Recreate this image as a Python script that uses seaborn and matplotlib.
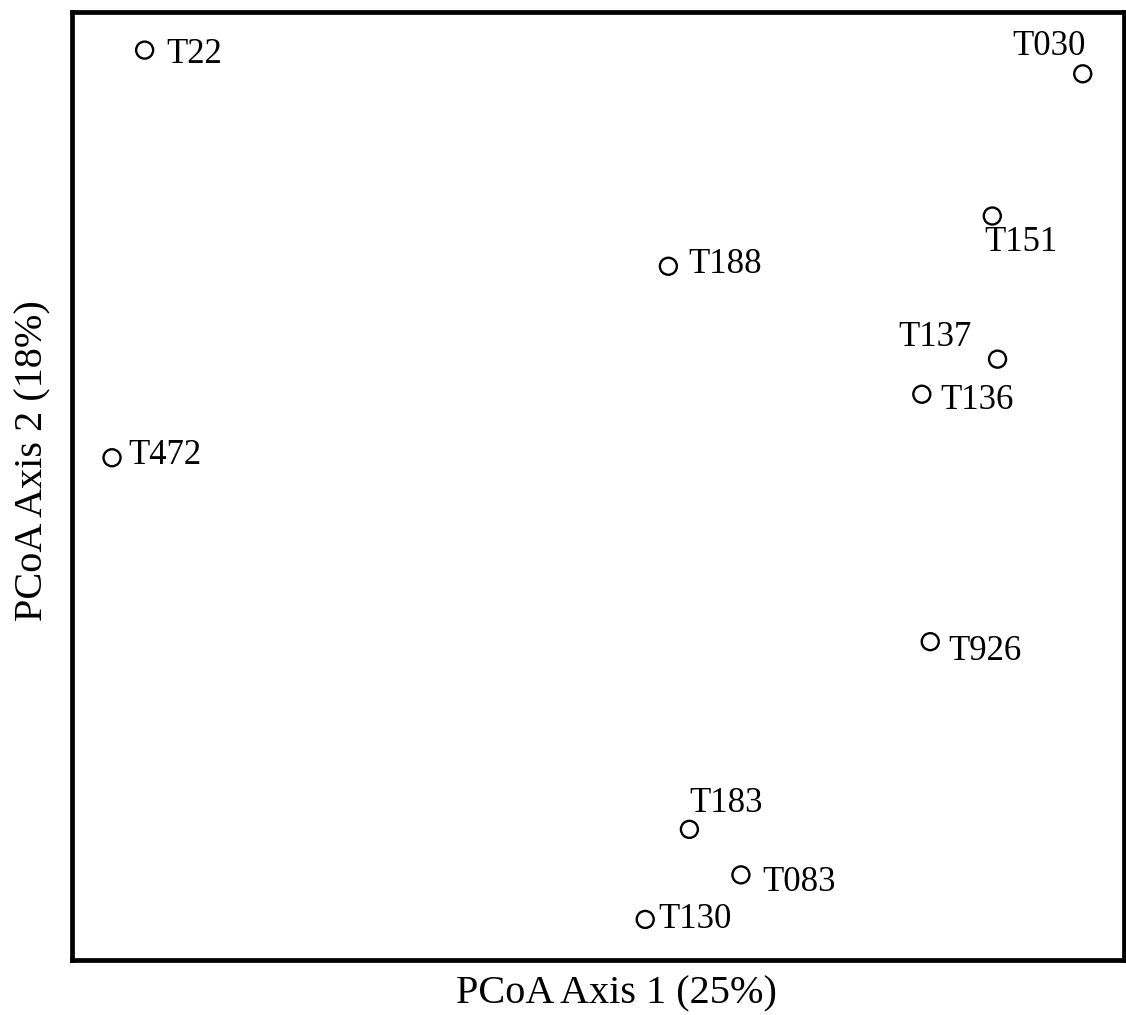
import matplotlib
matplotlib.use("Agg")
import matplotlib.pyplot as plt
import seaborn as sns
import pandas as pd

# PCoA site scores
samples = ["T22", "T030", "T151", "T188", "T137", "T136", "T472", "T926", "T183", "T083", "T130"]
axis1 = [-0.431, 0.461, 0.375, 0.067, 0.380, 0.308, -0.462, 0.316, 0.087, 0.136, 0.045]
axis2 = [0.460, 0.435, 0.285, 0.232, 0.134, 0.097, 0.030, -0.164, -0.362, -0.410, -0.457]

# label placement (pixel offsets from the point, horizontal alignment)
label_offsets = {
    "T22": (22, -4, "left"),
    "T030": (3, 27, "right"),
    "T151": (-8, -26, "left"),
    "T188": (20, 2, "left"),
    "T137": (-26, 22, "right"),
    "T136": (18, -6, "left"),
    "T472": (16, 2, "left"),
    "T926": (18, -10, "left"),
    "T183": (0, 26, "left"),
    "T083": (21, -8, "left"),
    "T130": (13, 0, "left"),
}

df = pd.DataFrame({"sample": samples, "PC1": axis1, "PC2": axis2})

sns.set_style("white")
plt.rcParams["font.family"] = ["Liberation Serif", "DejaVu Serif"]

fig = plt.figure(figsize=(11.26, 10.15), dpi=100)
ax = fig.add_axes([0.064, 0.054, 0.934, 0.934])

sns.scatterplot(data=df, x="PC1", y="PC2", ax=ax, s=150, marker="o",
                facecolor="none", edgecolor="black", linewidth=1.7)

for name, x, y in zip(samples, axis1, axis2):
    dx, dy, ha = label_offsets[name]
    ax.annotate(name, (x, y), xytext=(dx, dy), textcoords="offset pixels",
                ha=ha, va="center", fontsize=25, color="black")

ax.set_xlim(-0.5, 0.5)
ax.set_ylim(-0.5, 0.5)
ax.set_xticks([])
ax.set_yticks([])
ax.set_xlabel("PCoA Axis 1 (25%)", fontsize=29, color="black")
ax.set_ylabel("PCoA Axis 2 (18%)", fontsize=29, color="black")
ax.xaxis.set_label_coords(0.518, -0.016)
ax.yaxis.set_label_coords(-0.02, 0.527)
for sp in ax.spines.values():
    sp.set_visible(True)
    sp.set_color("black")
    sp.set_linewidth(3.4)

fig.savefig("out.png", dpi=100)
